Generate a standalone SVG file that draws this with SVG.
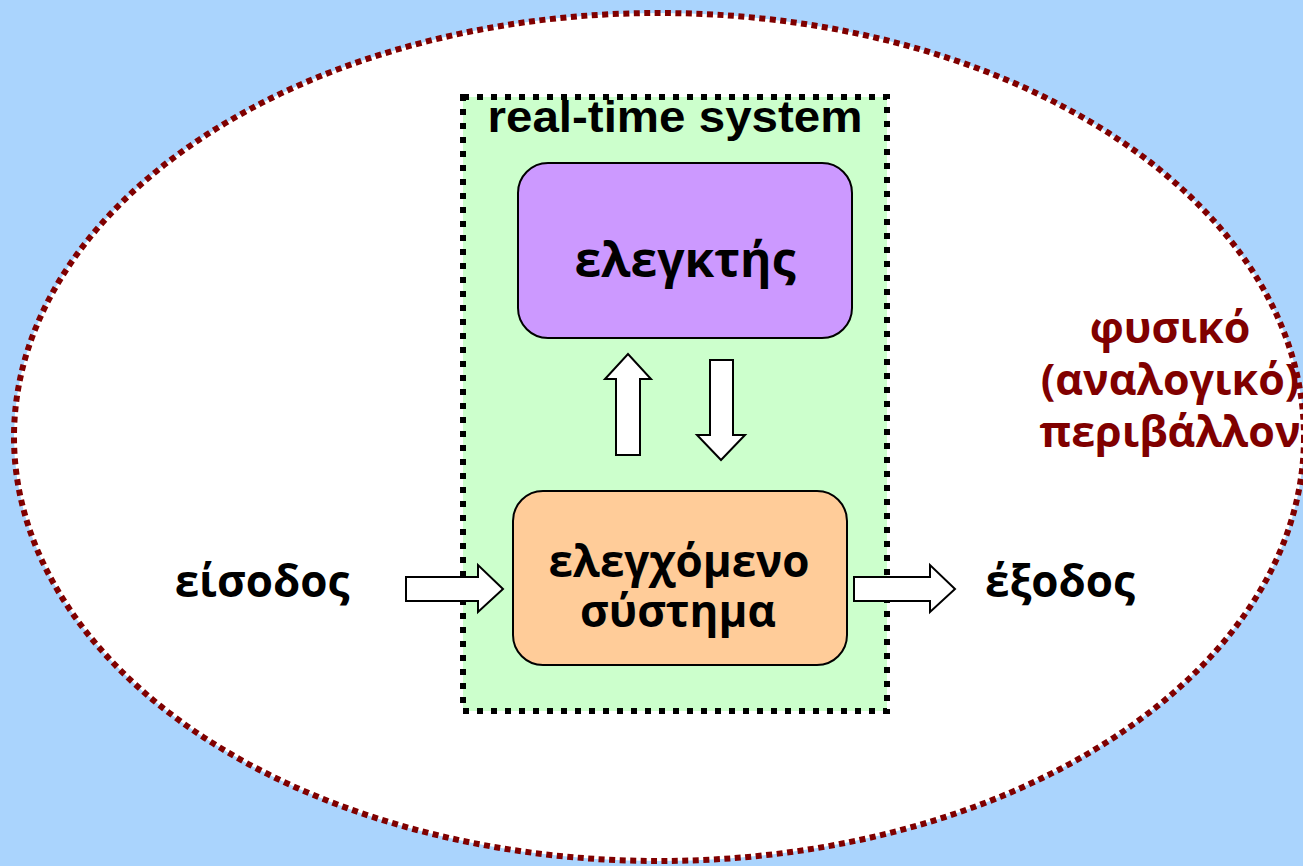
<svg xmlns="http://www.w3.org/2000/svg" width="1303" height="866" viewBox="0 0 1303 866">
<style>
.t{font-family:"Open Sans","Noto Sans","Liberation Sans",sans-serif;font-weight:bold;text-anchor:middle;fill:#000}
.e{font-family:"Liberation Sans",Arial,sans-serif}
.r{fill:#800000}
.arr{fill:#fff;stroke:#000;stroke-width:2;stroke-linejoin:miter}
.box{stroke:#000;stroke-width:2}
</style>
<rect x="0" y="0" width="1303" height="866" fill="#AAD4FD"/>
<g id="environment">
<ellipse cx="659" cy="437" rx="645" ry="424" fill="#fff"/>
<text class="t r" x="1170" y="343" font-size="43">φυσικό</text>
<text class="t r" x="1170" y="395" font-size="43">(αναλογικό)</text>
<text class="t r" x="1170" y="447" font-size="43">περιβάλλον</text>
<ellipse cx="659" cy="437" rx="645" ry="424" fill="none" stroke="#800000" stroke-width="6" stroke-dasharray="6 4.5"/>
</g>
<g id="rts">
<rect x="463" y="97" width="424" height="614" fill="#CCFFCC" stroke="#000" stroke-width="6" stroke-dasharray="6 8"/>
<text class="t e" x="675" y="132" font-size="45" textLength="375" lengthAdjust="spacingAndGlyphs">real-time system</text>
</g>
<g id="controller">
<rect class="box" x="518" y="163" width="334" height="175" rx="30" fill="#CC99FF"/>
<text class="t" x="685" y="277" font-size="48">ελεγκτής</text>
</g>
<g id="controlled">
<rect class="box" x="513" y="491" width="334" height="174" rx="30" fill="#FFCC99"/>
<text class="t" x="679" y="577" font-size="44">ελεγχόμενο</text>
<text class="t" x="678" y="627" font-size="44">σύστημα</text>
</g>
<g id="input">
<text class="t" x="262" y="597" font-size="44">είσοδος</text>
</g>
<g id="output">
<text class="t" x="1060" y="597" font-size="44">έξοδος</text>
</g>
<g id="connectors">
<polygon class="arr" points="616,455 640,455 640,379 651,379 628,354 605,379 616,379"/>
<polygon class="arr" points="710,360 733,360 733,435 745,435 721,460 697,435 710,435"/>
<polygon class="arr" points="406,577 478,577 478,565 503,589 478,612 478,601 406,601"/>
<polygon class="arr" points="854,577 930,577 930,565 955,589 930,612 930,601 854,601"/>
</g>
</svg>
